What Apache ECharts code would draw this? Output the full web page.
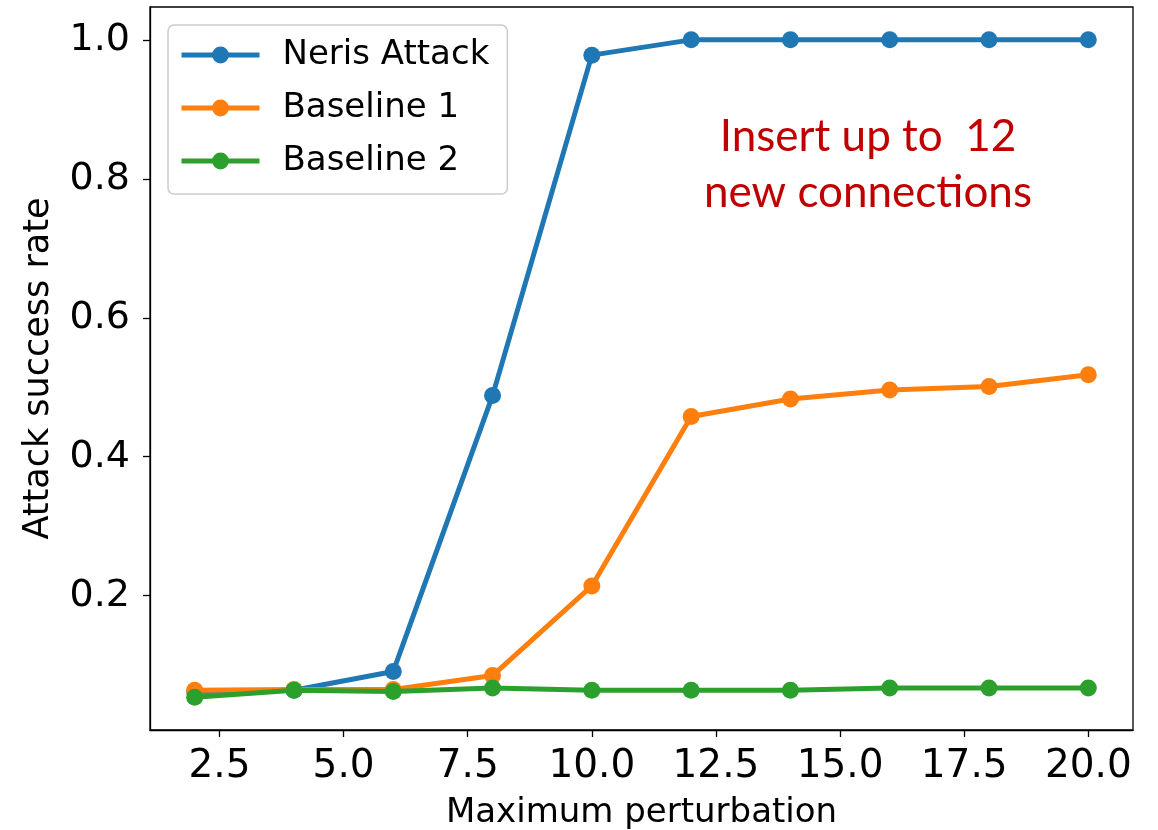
<!DOCTYPE html>
<html>
<head>
<meta charset="utf-8">
<title>Attack success rate vs. maximum perturbation</title>
<script src="https://cdn.jsdelivr.net/npm/echarts@6/dist/echarts.min.js"></script>
<style>
  html, body { margin: 0; padding: 0; background: #ffffff; }
  #chart { width: 1158px; height: 830px; }
</style>
</head>
<body>
<div id="chart"></div>
<script>
// Maximum perturbation (number of inserted connections)
const perturbation = [2, 4, 6, 8, 10, 12, 14, 16, 18, 20];

// Attack success rate per method
const nerisAttack = [0.062, 0.064, 0.091, 0.488, 0.978, 1.0, 1.0, 1.0, 1.0, 1.0];
const baseline1   = [0.064, 0.065, 0.065, 0.085, 0.214, 0.458, 0.483, 0.496, 0.501, 0.518];
const baseline2   = [0.054, 0.064, 0.062, 0.067, 0.064, 0.064, 0.064, 0.067, 0.067, 0.067];

const seriesNames = ['Neris Attack', 'Baseline 1', 'Baseline 2'];
const seriesColors = ['#1f77b4', '#ff7f0e', '#2ca02c'];

// Tick positions shown on the axes
const xTicks = [2.5, 5.0, 7.5, 10.0, 12.5, 15.0, 17.5, 20.0];
const yTicks = [0.2, 0.4, 0.6, 0.8, 1.0];

const xTitle = 'Maximum perturbation';
const yTitle = 'Attack success rate';
const noteText = 'Insert up to  12\nnew connections';

const FONT = 'DejaVu Sans';

function pairs(ys) {
  return perturbation.map((x, i) => [x, ys[i]]);
}

const chart = echarts.init(document.getElementById('chart'), null, { renderer: 'canvas' });

const allValues = [nerisAttack, baseline1, baseline2];

chart.setOption({
  animation: false,
  backgroundColor: '#ffffff',
  grid: {
    left: 150, right: 25, top: 7, bottom: 100,
    containLabel: false,
    outerBoundsMode: 'none',
    show: true,
    borderColor: '#000000',
    borderWidth: 1.3,
    backgroundColor: 'transparent'
  },
  xAxis: {
    type: 'value',
    min: 1.1,
    max: 20.9,
    name: xTitle,
    nameLocation: 'middle',
    nameGap: 66,
    nameTextStyle: { fontFamily: FONT, fontSize: 34, color: '#000000' },
    axisLine: { show: true, onZero: false, lineStyle: { color: '#000000', width: 1.3 } },
    axisTick: { show: true, inside: false, length: 7, customValues: xTicks,
                lineStyle: { color: '#000000', width: 1.3 } },
    axisLabel: { show: true, customValues: xTicks, margin: 17,
                 fontFamily: FONT, fontSize: 39, color: '#000000',
                 formatter: v => Number(v).toFixed(1) },
    splitLine: { show: false }
  },
  yAxis: {
    type: 'value',
    min: 0.0067,
    max: 1.0473,
    name: yTitle,
    nameLocation: 'middle',
    nameGap: 94,
    nameTextStyle: { fontFamily: FONT, fontSize: 35, color: '#000000' },
    axisLine: { show: true, onZero: false, lineStyle: { color: '#000000', width: 1.3 } },
    axisTick: { show: true, inside: false, length: 7, customValues: yTicks,
                lineStyle: { color: '#000000', width: 1.3 } },
    axisLabel: { show: true, customValues: yTicks, margin: 20,
                 fontFamily: FONT, fontSize: 38, color: '#000000',
                 formatter: v => Number(v).toFixed(1) },
    splitLine: { show: false }
  },
  legend: {
    orient: 'vertical',
    left: 168,
    top: 25,
    padding: [13, 18, 16, 11],
    itemGap: 19,
    itemWidth: 78,
    itemHeight: 21,
    backgroundColor: 'rgba(255,255,255,0.8)',
    borderColor: '#cccccc',
    borderWidth: 1.5,
    borderRadius: 6,
    lineStyle: { width: 5 },
    itemStyle: { borderWidth: 0 },
    textStyle: { fontFamily: FONT, fontSize: 34, lineHeight: 34, color: '#000000',
                 padding: [0, 0, 0, 18] },
    data: seriesNames
  },
  graphic: [{
    type: 'text',
    x: 868,
    y: 109,
    z: 10,
    style: {
      text: noteText,
      textAlign: 'center',
      fontFamily: 'Lato',
      fontSize: 44,
      lineHeight: 56,
      fill: '#C00000'
    }
  }],
  series: seriesNames.map((name, i) => ({
    name: name,
    type: 'line',
    data: pairs(allValues[i]),
    symbol: 'circle',
    symbolSize: 17,
    showSymbol: true,
    color: seriesColors[i],
    lineStyle: { width: 5, color: seriesColors[i] },
    itemStyle: { color: seriesColors[i], borderWidth: 0 },
    emphasis: { disabled: true },
    z: 2 + i
  }))
});
</script>
</body>
</html>
